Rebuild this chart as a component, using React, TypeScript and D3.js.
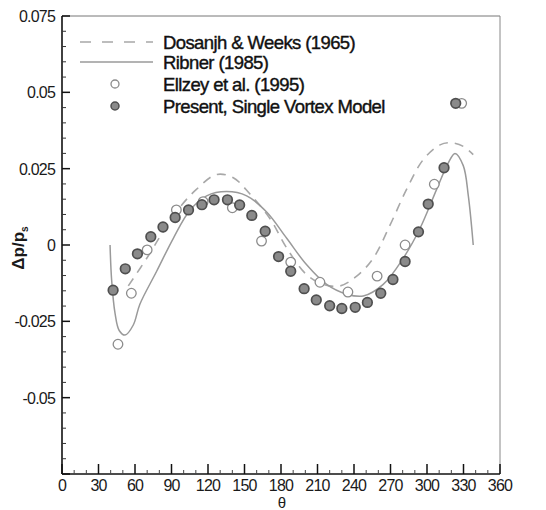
import React from "react";
import * as d3 from "d3";

const W = 546;
const H = 510;

// Tick values
const yTicks = [-0.075, -0.05, -0.025, 0, 0.025, 0.05, 0.075];
const yTickLabels = ["", "-0.05", "-0.025", "0", "0.025", "0.05", "0.075"];
const xTicks = [0, 30, 60, 90, 120, 150, 180, 210, 240, 270, 300, 330, 360];

// Present, Single Vortex Model (filled markers)
const presentTheta = [42, 52, 62, 73, 83, 93, 104, 115, 125, 136, 146, 156, 167, 178, 188, 199, 209, 220, 230, 241, 251, 262, 272, 282, 293, 301, 314, 323.6];
const presentVal = [-0.0148, -0.0078, -0.0029, 0.0027, 0.0059, 0.009, 0.0115, 0.0132, 0.0148, 0.0148, 0.0131, 0.0097, 0.0045, -0.0038, -0.0086, -0.0143, -0.018, -0.0199, -0.0208, -0.0204, -0.0188, -0.0158, -0.0113, -0.0054, 0.0043, 0.0134, 0.0253, 0.0464];

// Ellzey et al. (1995) (open markers)
const ellzeyTheta = [46, 57, 70, 94, 116, 140, 164, 188, 212, 235, 259, 282, 306, 328.5];
const ellzeyVal = [-0.0325, -0.0158, -0.0016, 0.0115, 0.0142, 0.0122, 0.0013, -0.0056, -0.0122, -0.0154, -0.0102, 0.0, 0.0199, 0.0464];

// Ribner (1985) (solid line)
const ribnerTheta = [39.5, 40.8, 43.6, 47, 51.8, 58.6, 64, 77.8, 91.5, 105, 118.9, 135.3, 151.8, 168.2, 184.7, 201.1, 217.5, 234, 247.6, 264, 280.5, 294.2, 308, 317.5, 323, 329.8, 334, 338];
const ribnerVal = [0.0, -0.0115, -0.0224, -0.028, -0.0295, -0.0262, -0.0194, -0.0086, 0.0022, 0.0113, 0.0161, 0.0175, 0.0161, 0.0108, 0.0022, -0.0065, -0.0129, -0.0161, -0.0167, -0.0129, -0.0043, 0.0054, 0.0183, 0.0269, 0.03, 0.026, 0.016, 0.0];

// Dosanjh & Weeks (1965) (dashed line)
const dosanjhTheta = [54.5, 72.3, 80.5, 97, 110.7, 127.1, 140.8, 154.5, 171, 184.7, 201, 214.8, 228.5, 242.2, 255.9, 269.6, 283.3, 297, 310.7, 318.9, 329.8, 338];
const dosanjhVal = [-0.0134, -0.0027, 0.0027, 0.0124, 0.0183, 0.0231, 0.022, 0.0167, 0.0086, -0.001, -0.0097, -0.0129, -0.0134, -0.0102, -0.0043, 0.0065, 0.0183, 0.028, 0.0328, 0.0335, 0.0323, 0.0296];

const legendLabels = ["Dosanjh & Weeks (1965)", "Ribner (1985)", "Ellzey et al. (1995)", "Present, Single Vortex Model"];

const FONT = "'Liberation Sans', Arial, sans-serif";

export default function App() {
  const x = d3.scaleLinear().domain([0, 360]).range([62, 500]);
  const y = d3.scaleLinear().domain([-0.075, 0.075]).range([474, 16]);

  const line = d3
    .line<[number, number]>()
    .x((d) => x(d[0]))
    .y((d) => y(d[1]))
    .curve(d3.curveCatmullRom.alpha(0.5));

  const ribner = ribnerTheta.map((t, i) => [t, ribnerVal[i]] as [number, number]);
  const dosanjh = dosanjhTheta.map((t, i) => [t, dosanjhVal[i]] as [number, number]);

  const xMinor = d3.range(0, 361, 10).filter((v) => v % 30 !== 0);
  const yMinor = d3.range(-75, 76, 5).map((v) => v / 1000).filter((v) => Math.abs((v * 1000) % 25) > 0.01);

  const lineColor = "#9a9a9a";
  const dashColor = "#a8a8a8";
  const filledFill = "#8a8a8a";
  const filledStroke = "#4f4f4f";
  const openStroke = "#8c8c8c";

  const legendY = [42, 62, 84, 106];

  return (
    <svg width={W} height={H} style={{ position: "absolute", left: 0, top: 0, background: "#fff" }}>
      <rect x={0} y={0} width={W} height={H} fill="#fff" />
      {/* frame */}
      <line x1={x(0)} x2={x(360)} y1={y(0.075)} y2={y(0.075)} stroke="#777" strokeWidth={1} />
      <line x1={x(360)} x2={x(360)} y1={y(0.075)} y2={y(-0.075)} stroke="#888" strokeWidth={1} />

      {/* lines */}
      <path d={line(dosanjh) || ""} fill="none" stroke={dashColor} strokeWidth={1.6} strokeDasharray="9,7" />
      <path d={line(ribner) || ""} fill="none" stroke={lineColor} strokeWidth={1.5} />

      {/* markers */}
      {ellzeyTheta.map((t, i) => (
        <circle key={"e" + i} cx={x(t)} cy={y(ellzeyVal[i])} r={4.8} fill="#fff" stroke={openStroke} strokeWidth={1.3} />
      ))}
      {presentTheta.map((t, i) => (
        <circle key={"p" + i} cx={x(t)} cy={y(presentVal[i])} r={4.8} fill={filledFill} stroke={filledStroke} strokeWidth={1.7} />
      ))}

      {/* axes */}
      <line x1={x(0)} x2={x(0)} y1={y(0.075)} y2={y(-0.075)} stroke="#111" strokeWidth={1.6} />
      <line x1={x(0)} x2={x(360)} y1={y(-0.075)} y2={y(-0.075)} stroke="#111" strokeWidth={1.6} />
      {yTicks.map((v, i) => (
        <g key={"yt" + i}>
          <line x1={x(0)} x2={x(0) + 8} y1={y(v)} y2={y(v)} stroke="#111" strokeWidth={1.5} />
          <text x={55} y={y(v) + 6} textAnchor="end" fontFamily={FONT} fontSize={16} letterSpacing={-0.8} fill="#1a1a1a">
            {yTickLabels[i]}
          </text>
        </g>
      ))}
      {yMinor.map((v, i) => (
        <line key={"ym" + i} x1={x(0)} x2={x(0) + 4} y1={y(v)} y2={y(v)} stroke="#333" strokeWidth={1} />
      ))}
      {xTicks.map((v, i) => (
        <g key={"xt" + i}>
          <line x1={x(v)} x2={x(v)} y1={y(-0.075)} y2={y(-0.075) - 10} stroke="#111" strokeWidth={1.5} />
          <text x={x(v)} y={491} textAnchor="middle" fontFamily={FONT} fontSize={16} letterSpacing={-0.8} fill="#1a1a1a">
            {String(v)}
          </text>
        </g>
      ))}
      {xMinor.map((v, i) => (
        <line key={"xm" + i} x1={x(v)} x2={x(v)} y1={y(-0.075)} y2={y(-0.075) - 4} stroke="#444" strokeWidth={1} />
      ))}

      {/* axis titles */}
      <text x={282} y={508} textAnchor="middle" fontFamily={FONT} fontSize={15} fill="#1a1a1a">
        θ
      </text>
      <text
        transform={`translate(24, 248) rotate(-90)`}
        textAnchor="middle"
        fontFamily={FONT}
        fontSize={17}
        fontWeight="bold"
        fill="#1a1a1a"
      >
        Δp/p
        <tspan fontSize={10} dy={4}>s</tspan>
      </text>

      {/* legend */}
      <line x1={80} x2={153} y1={legendY[0]} y2={legendY[0]} stroke={dashColor} strokeWidth={1.6} strokeDasharray="11,11" />
      <line x1={80} x2={153} y1={legendY[1]} y2={legendY[1]} stroke={lineColor} strokeWidth={1.5} />
      <circle cx={115} cy={legendY[2]} r={4} fill="#fff" stroke={openStroke} strokeWidth={1.3} />
      <circle cx={115} cy={legendY[3]} r={4} fill={filledFill} stroke={filledStroke} strokeWidth={1.5} />
      {legendLabels.map((s, i) => (
        <text key={"lg" + i} x={163} y={legendY[i] + 6.5} fontFamily={FONT} fontSize={18.5} letterSpacing={-0.6} fill="#111" stroke="#111" strokeWidth={0.4}>
          {s}
        </text>
      ))}
    </svg>
  );
}
